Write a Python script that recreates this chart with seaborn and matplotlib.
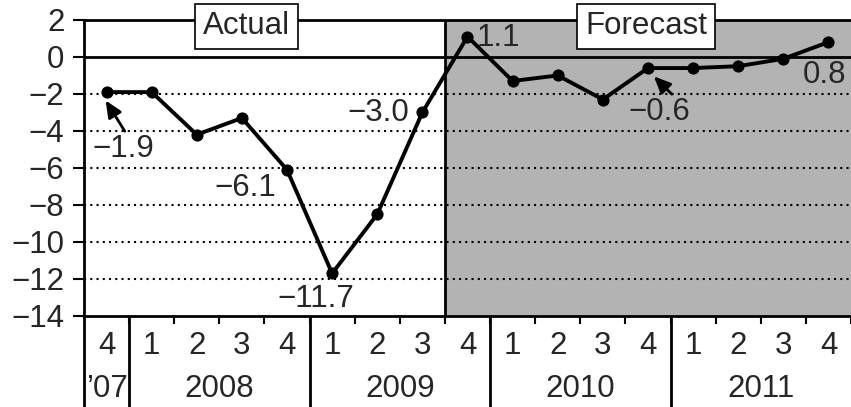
import numpy as np
import pandas as pd
import matplotlib
matplotlib.use('Agg')
import matplotlib.pyplot as plt
import seaborn as sns

# quarterly values, Q4 2007 .. Q4 2011
quarters = ['4', '1', '2', '3', '4', '1', '2', '3', '4',
            '1', '2', '3', '4', '1', '2', '3', '4']
values = [-1.9, -1.9, -4.2, -3.3, -6.1, -11.7, -8.5, -3.0, 1.1,
          -1.3, -1.0, -2.3, -0.6, -0.6, -0.5, -0.1, 0.8]
years = ["\u201907", '2008', '2009', '2010', '2011']
year_centers = [0, 2.5, 6.5, 10.5, 14.5]
year_edges = [-0.5, 0.5, 4.5, 8.5, 12.5]
forecast_start = 7.5
y_ticks = [2, 0, -2, -4, -6, -8, -10, -12, -14]


def setup_style():
    sns.set_theme(style='white')
    plt.rcParams['font.family'] = ['Liberation Sans', 'DejaVu Sans']
    plt.rcParams['axes.unicode_minus'] = True


def main():
    setup_style()
    fs = 22.5

    fig = plt.figure(figsize=(8.51, 4.07), dpi=100)
    ax = fig.add_axes([0.0987, 0.2236, 0.9013, 0.7274])

    df = pd.DataFrame({'q': np.arange(len(values)), 'val': values})

    # forecast shading
    ax.axvspan(forecast_start, 20, color='#b3b3b3', zorder=0, lw=0)
    ax.axvline(forecast_start, color='black', lw=2, zorder=2)

    # grid lines
    for y in [-2, -4, -6, -8, -10, -12]:
        ax.axhline(y, color='black', ls=(0, (1, 2)), lw=1.5, zorder=1)
    ax.axhline(0, color='black', lw=2, zorder=2)

    sns.lineplot(data=df, x='q', y='val', color='black', lw=2.8,
                 marker='o', markersize=8, markeredgecolor='black',
                 ax=ax, zorder=4)

    ax.set_xlim(-0.5, 16.0)
    ax.set_ylim(-14, 2)
    ax.set_xlabel('')
    ax.set_ylabel('')

    # y axis
    ax.set_yticks(y_ticks)
    ax.tick_params(axis='y', which='major', direction='out', length=8,
                   width=1.5, color='black', labelsize=fs, pad=6, left=True)

    # x axis: quarter labels on centres, short ticks on boundaries
    ax.set_xticks(np.arange(len(quarters)))
    ax.set_xticklabels(quarters)
    ax.tick_params(axis='x', which='major', length=0, labelsize=fs, pad=11)
    ax.set_xticks(np.arange(len(quarters)) + 0.5, minor=True)
    ax.tick_params(axis='x', which='minor', direction='out', length=6,
                   width=1.5, color='black', bottom=True)

    for s in ['left', 'bottom', 'top']:
        ax.spines[s].set_color('black')
        ax.spines[s].set_linewidth(2)
    ax.spines['right'].set_visible(False)

    # year separators and labels
    trans = ax.get_xaxis_transform()
    ax.vlines(year_edges, -0.32, 0, transform=trans, color='black',
              lw=2, clip_on=False)
    for xc, yr in zip(year_centers, years):
        ax.text(xc, -0.245, yr, transform=trans, ha='center', va='center',
                fontsize=fs)

    # section boxes
    box = dict(boxstyle='square,pad=0.25', fc='white', ec='black', lw=1.2)
    ax.text(3.11, 0.978, 'Actual', transform=trans, ha='center', va='center',
            fontsize=fs, bbox=box, zorder=6, clip_on=False)
    ax.text(11.96, 0.978, 'Forecast', transform=trans, ha='center',
            va='center', fontsize=fs, bbox=box, zorder=6, clip_on=False)

    # value labels
    arrow = dict(arrowstyle='-|>,head_length=0.45,head_width=0.2',
                 color='black', lw=2, shrinkA=0, shrinkB=0)
    ax.annotate('\u22121.9', xy=(-0.02, -2.35), xytext=(0.38, -5.0),
                ha='center', va='center', fontsize=fs,
                arrowprops=dict(arrow, relpos=(0.55, 1.0)))
    ax.annotate('\u22120.6', xy=(12.13, -1.05), xytext=(12.26, -3.0),
                ha='center', va='center', fontsize=fs,
                arrowprops=dict(arrow, relpos=(0.75, 1.0)))
    ax.text(3.07, -7.08, '\u22126.1', ha='center', va='center', fontsize=fs)
    ax.text(4.64, -13.1, '\u221211.7', ha='center', va='center', fontsize=fs)
    ax.text(6.02, -3.03, '\u22123.0', ha='center', va='center', fontsize=fs)
    ax.text(8.69, 1.03, '1.1', ha='center', va='center', fontsize=fs)
    ax.text(15.43, -0.97, '0.8', ha='left', va='center', fontsize=fs)

    fig.savefig('out.png', dpi=100)


if __name__ == '__main__':
    main()
